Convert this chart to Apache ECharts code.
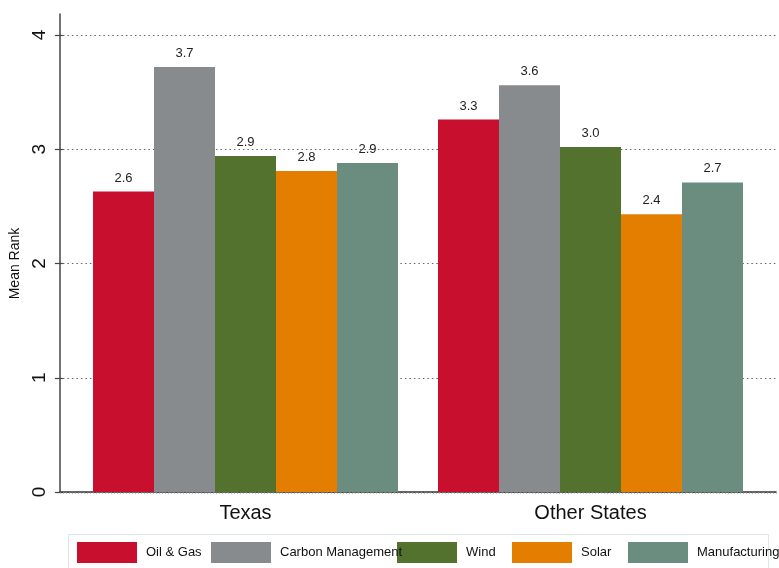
<!DOCTYPE html>
<html>
<head>
<meta charset="utf-8">
<script src="https://cdn.jsdelivr.net/npm/echarts@6/dist/echarts.min.js"></script>
<style>html,body{margin:0;padding:0;background:#fff}#c{width:779px;height:568px}</style>
</head>
<body>
<div id="c"></div>
<script>
const categories = ['Texas', 'Other States'];
const seriesNames = ['Oil & Gas', 'Carbon Management', 'Wind', 'Solar', 'Manufacturing'];
const oilGas = [2.63, 3.26];
const carbonMgmt = [3.72, 3.56];
const wind = [2.94, 3.02];
const solar = [2.81, 2.43];
const manufacturing = [2.88, 2.71];
const yTicks = [0, 1, 2, 3, 4];

const colors = ['#C8102E', '#888B8D', '#53722D', '#E37E00', '#6A8D7F'];
const values = [oilGas, carbonMgmt, wind, solar, manufacturing];
const legendLeft = [77, 211, 397, 512, 628];

const chart = echarts.init(document.getElementById('c'), null, {renderer: 'canvas'});
const font = 'Arial, "Liberation Sans", sans-serif';

const series = seriesNames.map((n, i) => ({
  name: n, type: 'bar', xAxisIndex: 2, yAxisIndex: 2,
  data: values[i],
  barGap: '0%', barCategoryGap: '11.6%',
  itemStyle: {color: colors[i]},
  label: {show: true, position: 'top', distance: 7, fontFamily: font, fontSize: 13, color: '#222',
    formatter: p => p.value.toFixed(1)}
}));

chart.setOption({
  animation: false,
  backgroundColor: '#fff',
  grid: [
    {left: 60, right: 3, top: 14, bottom: 76},
    {left: 60, right: 3, top: 35, bottom: 76},
    {left: 73, width: 690, top: 35, bottom: 76}
  ],
  xAxis: [
    {gridIndex: 0, type: 'value', min: 0, max: 238, interval: 1,
      axisLine: {show: true, lineStyle: {color: '#333', width: 1.5}},
      axisTick: {show: true, length: 2, lineStyle: {color: '#999', width: 0.6}},
      axisLabel: {show: false}, splitLine: {show: false}},
    {gridIndex: 1, type: 'value', show: false},
    {gridIndex: 2, type: 'category', data: categories,
      axisLine: {show: false}, axisTick: {show: false},
      axisLabel: {fontFamily: font, fontSize: 20, color: '#111', margin: 11}}
  ],
  yAxis: [
    {gridIndex: 0, type: 'value', min: 0, max: 4.18,
      axisLine: {show: true, lineStyle: {color: '#444', width: 1.5}},
      axisTick: {show: false}, axisLabel: {show: false}, splitLine: {show: false}},
    {gridIndex: 1, type: 'value', min: yTicks[0], max: yTicks[yTicks.length - 1], interval: 1,
      axisLine: {show: false},
      axisTick: {show: true, length: 8, lineStyle: {color: '#444', width: 1.2}},
      axisLabel: {fontFamily: font, fontSize: 19, color: '#111', rotate: 90, margin: 14,
        formatter: v => yTicks.includes(v) ? String(v) : ''},
      splitLine: {show: true, lineStyle: {type: [1.5, 3], color: '#666', width: 1}},
      name: 'Mean Rank', nameLocation: 'middle', nameGap: 34,
      nameTextStyle: {fontFamily: font, fontSize: 14, color: '#111'}},
    {gridIndex: 2, type: 'value', min: 0, max: 4, show: false}
  ],
  legend: seriesNames.map((n, i) => ({
    data: [n], left: legendLeft[i], top: 542, padding: 0, z: i === 1 ? 6 : 4,
    itemWidth: 60, itemHeight: 21, icon: 'rect', selectedMode: false,
    textStyle: {fontFamily: font, fontSize: 13, color: '#111', padding: [0, 0, 0, 4]}
  })),
  graphic: [{type: 'rect', shape: {x: 68.5, y: 534.5, width: 700, height: 50},
    style: {fill: 'none', stroke: '#dde6e8', lineWidth: 1}, z: -1}],
  series: series
});
</script>
</body>
</html>
